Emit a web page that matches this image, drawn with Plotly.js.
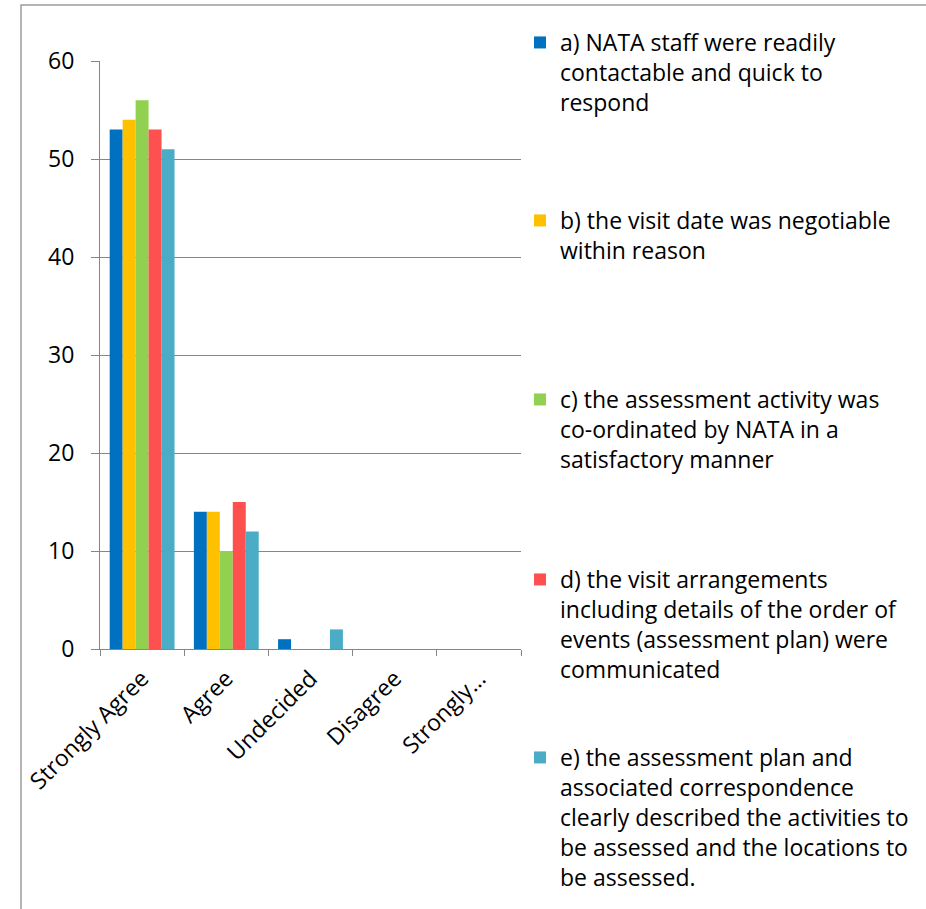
<!DOCTYPE html>
<html>
<head>
<meta charset="utf-8">
<script src="https://cdn.plot.ly/plotly-3.0.1.min.js"></script>
<style>
  html, body { margin: 0; padding: 0; background: #ffffff; }
  #chart { width: 926px; height: 909px; }
</style>
</head>
<body>
<div id="chart"></div>
<script>
// ---- data ----
const categories = ["Strongly Agree", "Agree", "Undecided", "Disagree", "Strongly…"];
const seriesNames = [
  "a) NATA staff were readily<br>contactable and quick to<br>respond",
  "b) the visit date was negotiable<br>within reason",
  "c) the assessment activity was<br>co-ordinated by NATA in a<br>satisfactory manner",
  "d) the visit arrangements<br>including details of the order of<br>events (assessment plan) were<br>communicated",
  "e) the assessment plan and<br>associated correspondence<br>clearly described the activities to<br>be assessed and the locations to<br>be assessed."
];
const valuesA = [53, 14, 1, 0, 0];
const valuesB = [54, 14, 0, 0, 0];
const valuesC = [56, 10, 0, 0, 0];
const valuesD = [53, 15, 0, 0, 0];
const valuesE = [51, 12, 2, 0, 0];
const yTicks = [0, 10, 20, 30, 40, 50, 60];

// ---- styling ----
const colors = ["#0070C0", "#FFC000", "#92D050", "#FF5050", "#4BACC6"];
const legendIds = ["legend", "legend2", "legend3", "legend4", "legend5"];
const legendTops = [21, 199, 378, 558, 736]; // px from top of page
const FONT = "'Open Sans', 'Liberation Sans', sans-serif";
const FS = 23;
const W = 926, H = 909;

const allValues = [valuesA, valuesB, valuesC, valuesD, valuesE];
const traces = allValues.map((vals, i) => ({
  type: "bar",
  name: seriesNames[i],
  x: categories,
  y: vals,
  marker: { color: colors[i], line: { width: 0 } },
  legend: legendIds[i],
  showlegend: true,
  hoverinfo: "x+y+name"
}));

const layout = {
  width: W, height: H,
  showlegend: true,
  paper_bgcolor: "#ffffff",
  plot_bgcolor: "#ffffff",
  margin: { l: 100, r: W - 521, t: 61, b: H - 649, autoexpand: false },
  barmode: "group",
  bargap: 0.23,
  bargroupgap: 0,
  font: { family: FONT, size: FS, color: "#000000" },
  xaxis: {
    type: "category",
    tickangle: -45,
    ticks: "outside",
    tickson: "boundaries",
    ticklen: 6,
    tickcolor: "#868686",
    showline: true,
    linecolor: "#868686",
    linewidth: 1,
    showgrid: false,
    ticklabelstandoff: 6,
    tickfont: { family: FONT, size: FS, color: "#000" }
  },
  yaxis: {
    range: [0, 60],
    tickvals: yTicks,
    ticktext: yTicks.map(String),
    ticks: "outside",
    ticklen: 8,
    tickcolor: "#868686",
    showline: true,
    linecolor: "#868686",
    linewidth: 1,
    showgrid: true,
    gridcolor: "#868686",
    gridwidth: 1,
    zeroline: false,
    ticklabelstandoff: 12,
    tickfont: { family: FONT, size: FS, color: "#000" }
  },
  shapes: [{
    type: "rect", xref: "paper", yref: "paper",
    x0: (21 - 100) / 421, x1: (W + 50 - 100) / 421,
    y0: (649 - (H + 50)) / 588, y1: (649 - 5) / 588,
    line: { color: "#9c9c9c", width: 1.5 },
    fillcolor: "rgba(0,0,0,0)"
  }]
};

legendIds.forEach((id, i) => {
  layout[id] = {
    xref: "container", yref: "container",
    x: 520 / W, xanchor: "left",
    y: 1 - legendTops[i] / H, yanchor: "top",
    valign: "top",
    bgcolor: "rgba(0,0,0,0)",
    borderwidth: 0,
    itemwidth: 30,
    maxheight: 400,
    visible: true,
    font: { family: FONT, size: FS, color: "#000" }
  };
});

Plotly.newPlot("chart", traces, layout, { displayModeBar: false });
</script>
</body>
</html>
